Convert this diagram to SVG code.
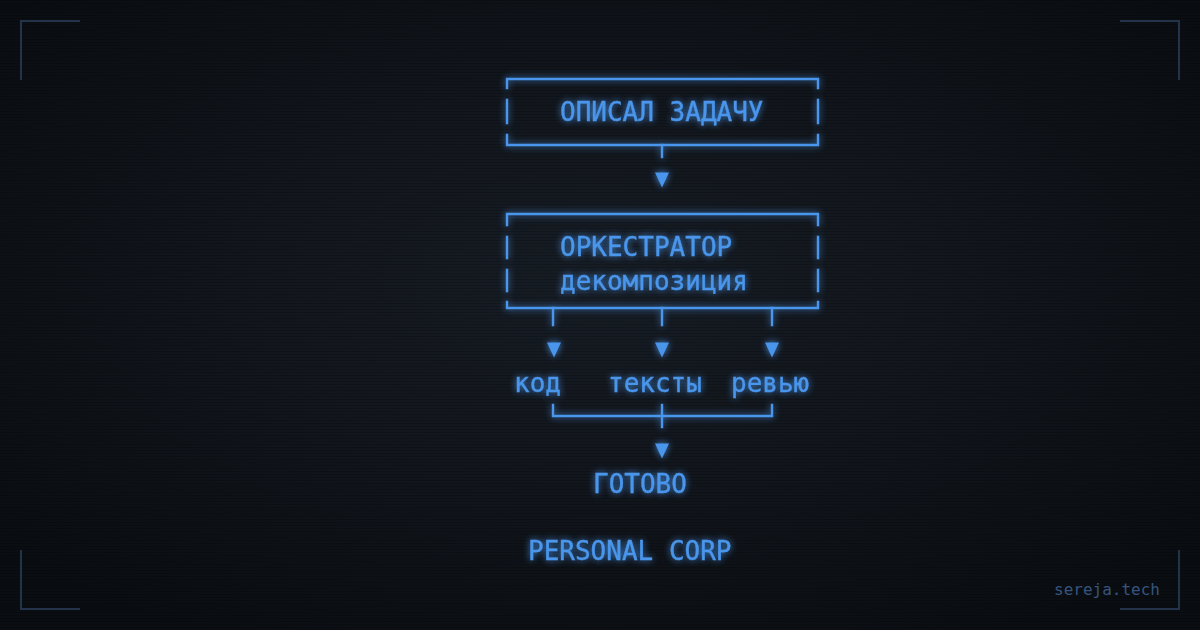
<svg xmlns="http://www.w3.org/2000/svg" width="1200" height="630" viewBox="0 0 1200 630">
  <defs>
    <radialGradient id="bg" cx="50%" cy="45%" r="65%">
      <stop offset="0" stop-color="#171d25"/>
      <stop offset="0.6" stop-color="#10141a"/>
      <stop offset="1" stop-color="#0a0d11"/>
    </radialGradient>
    <pattern id="scan" width="4" height="3" patternUnits="userSpaceOnUse">
      <rect width="4" height="1" fill="#000" fill-opacity="0.18"/>
    </pattern>
    <filter id="glow" x="-20%" y="-40%" width="140%" height="180%">
      <feGaussianBlur in="SourceGraphic" stdDeviation="3.5" result="b"/>
      <feComponentTransfer in="b" result="b2">
        <feFuncA type="linear" slope="0.9"/>
      </feComponentTransfer>
      <feMerge>
        <feMergeNode in="b2"/>
        <feMergeNode in="SourceGraphic"/>
      </feMerge>
    </filter>
    <path id="tri" d="M-7,-7.5 L7,-7.5 L0,7.5 Z"/>
    <style>
      .t { font-family: "DejaVu Sans Mono", "Liberation Mono", monospace; font-size: 26px; fill: #4a96ec; stroke: #4a96ec; stroke-width: 0.4; }
      .ln { stroke: #4a96ec; stroke-width: 2.4; fill: none; stroke-linecap: square; }
      .ar { fill: #4a96ec; }
      .corner { stroke: #24324a; stroke-width: 2; fill: none; }
      .sig { font-family: "DejaVu Sans Mono", "Liberation Mono", monospace; font-size: 16px; fill: #35557e; }
    </style>
  </defs>

  <rect width="1200" height="630" fill="url(#bg)"/>
  <rect width="1200" height="630" fill="url(#scan)"/>

  <g id="frame-corners">
    <path class="corner" d="M21,80 V21 H80"/>
    <path class="corner" d="M1120,21 H1179 V80"/>
    <path class="corner" d="M21,550 V609 H80"/>
    <path class="corner" d="M1120,609 H1179 V550"/>
  </g>

  <g filter="url(#glow)">
    <g id="node-task">
      <path class="ln" d="M507,88 V79 H818 V88"/>
      <path class="ln" d="M507,100 V123 M818,100 V123"/>
      <path class="ln" d="M507,135 V145 H818 V135"/>
      <text class="t" x="560" y="121">ОПИСАЛ ЗАДАЧУ</text>
    </g>

    <g id="node-orchestrator">
      <path class="ln" d="M507,225 V214 H818 V225"/>
      <path class="ln" d="M507,237 V258 M818,237 V258 M507,270 V291 M818,270 V291"/>
      <path class="ln" d="M507,302 V308 H818 V302"/>
      <text class="t" x="560" y="256">ОРКЕСТРАТОР</text>
      <text class="t" x="560" y="290">декомпозиция</text>
    </g>

    <g id="node-code">
      <text class="t" x="514" y="392">код</text>
    </g>
    <g id="node-texts">
      <text class="t" x="608" y="392">тексты</text>
    </g>
    <g id="node-review">
      <text class="t" x="731" y="392">ревью</text>
    </g>

    <g id="node-done">
      <text class="t" x="593" y="493">ГОТОВО</text>
    </g>

    <g id="connectors">
      <path class="ln" d="M662,145 V157"/>
      <use href="#tri" class="ar" x="662" y="180"/>
      <path class="ln" d="M553,308 V325 M662,308 V325 M772,308 V325"/>
      <use href="#tri" class="ar" x="554" y="350"/>
      <use href="#tri" class="ar" x="662" y="350"/>
      <use href="#tri" class="ar" x="772" y="350"/>
      <path class="ln" d="M553,405 V416 H772 V405"/>
      <path class="ln" d="M662,405 V427"/>
      <use href="#tri" class="ar" x="662" y="451"/>
    </g>

    <g id="title">
      <text class="t" x="528" y="560">PERSONAL CORP</text>
    </g>
  </g>

  <text class="sig" x="1160" y="595" text-anchor="end">sereja.tech</text>
</svg>
